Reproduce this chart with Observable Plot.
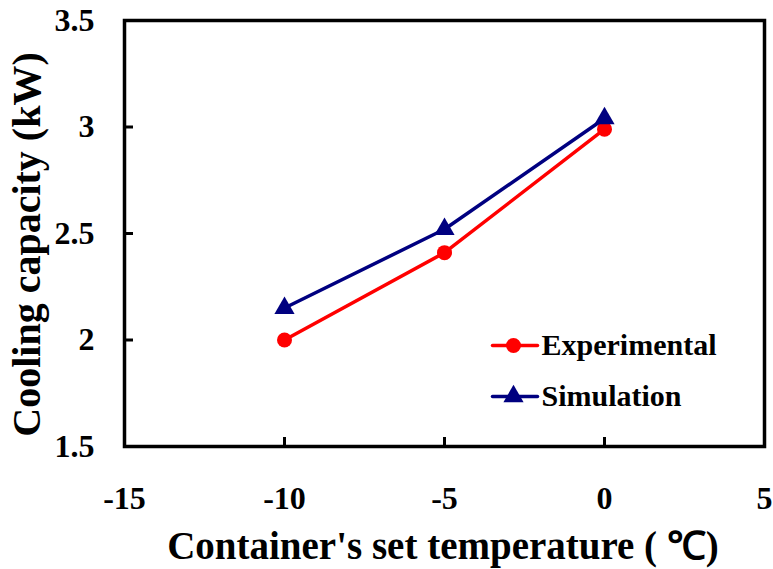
<!DOCTYPE html>
<html>
<head>
<meta charset="utf-8">
<script src="https://cdn.jsdelivr.net/npm/d3@7"></script>
<script src="https://cdn.jsdelivr.net/npm/@observablehq/plot@0.6"></script>
<style>
  html, body { margin: 0; padding: 0; background: #fff; }
  #chart svg { display: block; }
</style>
</head>
<body>
<div id="chart"></div>
<script>
// Container set temperature (°C) and cooling capacity (kW)
const temperatures = [-10, -5, 0];
const experimental = [2.00, 2.41, 2.99];
const simulation = [2.15, 2.52, 3.04];

const xTicks = [-15, -10, -5, 0, 5];
const yTicks = [1.5, 2, 2.5, 3, 3.5];
const xTickLabels = ["-15", "-10", "-5", "0", "5"];
const yTickLabels = ["1.5", "2", "2.5", "3", "3.5"];

const seriesNames = ["Experimental", "Simulation"];
const seriesValues = [experimental, simulation];
const seriesColors = ["#ff0000", "#000080"];
const seriesSymbols = ["circle", "triangle"];

const xTitle = "Container's set temperature ( \u2103)";
const yTitle = "Cooling capacity (kW)";

const FONT = "'Liberation Serif', 'Times New Roman', serif";

// plain horizontal stroke used as the legend's line sample
const lineShape = {draw(context, l) { context.moveTo(0, 0); context.lineTo(0, -l); }};

const seriesMarks = seriesValues.flatMap((values, k) => [
  Plot.line(temperatures, {
    x: d => d, y: (d, i) => values[i],
    stroke: seriesColors[k], strokeWidth: 3.5
  }),
  Plot.dot(temperatures, {
    x: d => d, y: (d, i) => values[i],
    symbol: seriesSymbols[k], r: 7.5,
    fill: seriesColors[k], stroke: "none"
  })
]);

// legend inside the plotting area
const legendRows = [325, 376];
const legendMarks = seriesNames.flatMap((name, k) => [
  Plot.vector([name], {
    frameAnchor: "top-left", dx: 368, dy: legendRows[k],
    rotate: 90, length: 45, anchor: "start", shape: lineShape,
    stroke: seriesColors[k], strokeWidth: 3.5
  }),
  Plot.dot([name], {
    frameAnchor: "top-left", dx: 389, dy: legendRows[k],
    symbol: seriesSymbols[k], r: 7.5, fill: seriesColors[k], stroke: "none"
  }),
  Plot.text([name], {
    frameAnchor: "top-left", dx: 417, dy: legendRows[k],
    text: d => d, textAnchor: "start", lineAnchor: "middle",
    fontSize: 30, fontWeight: "bold", fontFamily: FONT, fill: "black"
  })
]);

const chart = Plot.plot({
  width: 773,
  height: 569,
  marginLeft: 124,
  marginRight: 9,
  marginTop: 20,
  marginBottom: 123,
  style: {fontFamily: FONT, fontWeight: "bold", color: "black", background: "white"},
  x: {domain: [-15, 5]},
  y: {domain: [1.5, 3.5]},
  marks: [
    // tick labels
    Plot.axisX({
      ticks: xTicks, tickSize: 0, tickPadding: 40,
      tickFormat: d => xTickLabels[xTicks.indexOf(d)],
      fontSize: 32, fontWeight: "bold", fontFamily: FONT, label: null
    }),
    Plot.axisY({
      ticks: yTicks, tickSize: 0, tickPadding: 30,
      tickFormat: d => yTickLabels[yTicks.indexOf(d)],
      fontSize: 32, fontWeight: "bold", fontFamily: FONT, label: null
    }),
    // inward tick marks
    Plot.axisX({
      ticks: xTicks, tickSize: 9, dy: -9, strokeWidth: 3,
      tickFormat: () => "", label: null
    }),
    Plot.axisY({
      ticks: yTicks, tickSize: 9, dx: 9, strokeWidth: 3,
      tickFormat: () => "", label: null
    }),
    Plot.frame({stroke: "black", strokeWidth: 3.5}),
    ...seriesMarks,
    ...legendMarks,
    // axis titles
    Plot.text([xTitle], {
      frameAnchor: "bottom", dx: -1.5, dy: 100,
      text: d => d, textAnchor: "middle", lineAnchor: "middle",
      fontSize: 39, fontWeight: "bold", fontFamily: FONT, fill: "black"
    }),
    Plot.text([yTitle], {
      frameAnchor: "left", dx: -97, dy: 11, rotate: -90,
      text: d => d, textAnchor: "middle", lineAnchor: "middle",
      fontSize: 40, fontWeight: "bold", fontFamily: FONT, fill: "black"
    })
  ]
});

document.getElementById("chart").appendChild(chart);
</script>
</body>
</html>
